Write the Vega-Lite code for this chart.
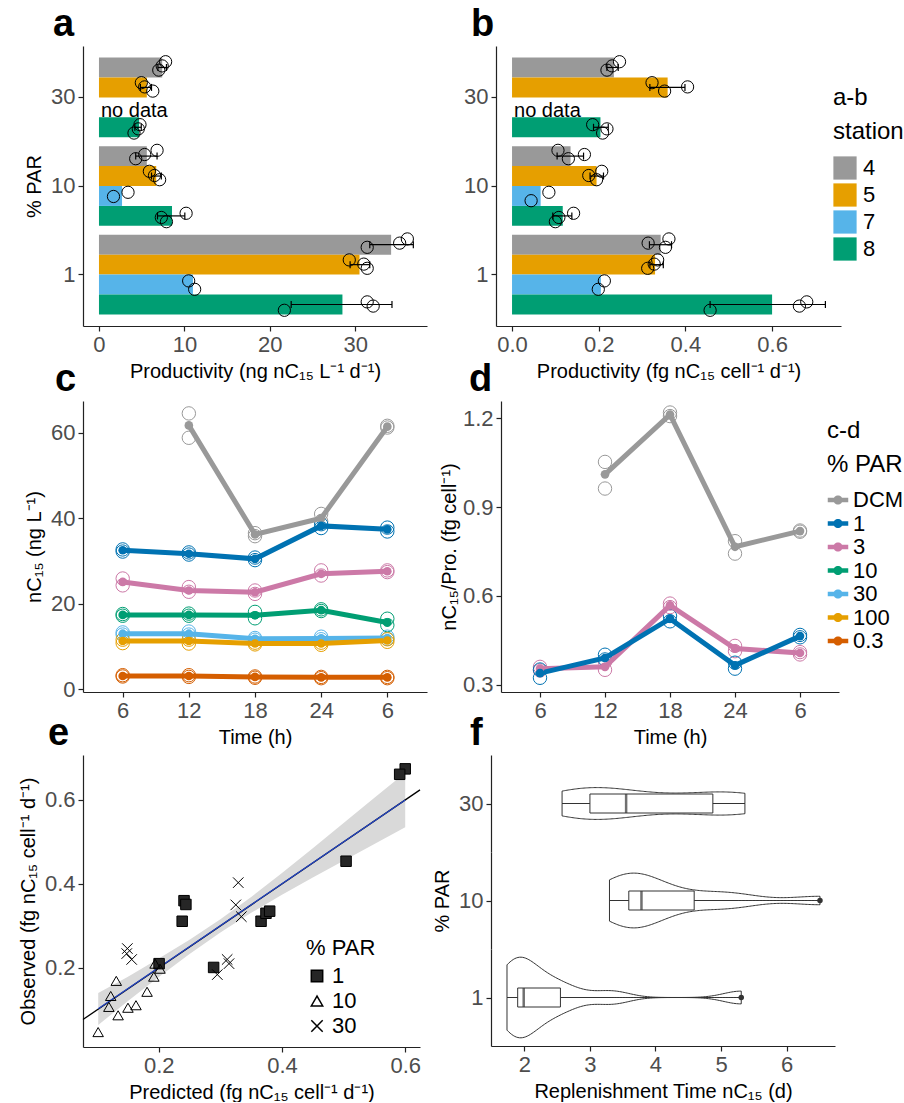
{
"$schema": "https://vega.github.io/schema/vega-lite/v6.json",
"background": "white",
"padding": {"top": 6, "left": 18, "right": 0, "bottom": 0},
"config": {
  "font": "Liberation Sans",
  "view": {"stroke": null},
  "axis": {"grid": false, "domainColor": "#222", "domainWidth": 1.2, "tickColor": "#222", "tickWidth": 1.2, "tickSize": 5, "labelColor": "#4D4D4D", "labelFontSize": 22, "titleFontSize": 20, "titleFontWeight": "normal", "titleColor": "black", "labelPadding": 3, "titlePadding": 6, "labelFont": "Liberation Sans", "titleFont": "Liberation Sans"},
  "title": {"fontSize": 38, "fontWeight": "bold", "anchor": "start", "frame": "group", "color": "black", "offset": 2},
  "legend": {"titleFontWeight": "normal", "titleColor": "black", "labelColor": "black", "titleAlign": "left"}
},
"datasets": {
  "bars": [
    {"par":"30","station":"4","a":7.4,"alo":6.9,"ahi":7.9,"b":0.235,"blo":0.219,"bhi":0.245},
    {"par":"30","station":"5","a":5.6,"alo":4.85,"ahi":6.15,"b":0.359,"blo":0.318,"bhi":0.399},
    {"par":"30","station":"8","a":4.7,"alo":4.2,"ahi":4.95,"b":0.204,"blo":0.188,"bhi":0.222},
    {"par":"10","station":"4","a":5.6,"alo":4.3,"ahi":6.8,"b":0.135,"blo":0.104,"bhi":0.165},
    {"par":"10","station":"5","a":6.7,"alo":6.15,"ahi":7.3,"b":0.195,"blo":0.18,"bhi":0.211},
    {"par":"10","station":"7","a":2.7,"alo":null,"ahi":null,"b":0.066,"blo":null,"bhi":null},
    {"par":"10","station":"8","a":8.55,"alo":6.85,"ahi":10.05,"b":0.117,"blo":0.094,"bhi":0.138},
    {"par":"1","station":"4","a":34.2,"alo":31.7,"ahi":36.8,"b":0.343,"blo":0.317,"bhi":0.368},
    {"par":"1","station":"5","a":30.5,"alo":29.4,"ahi":31.7,"b":0.33,"blo":0.318,"bhi":0.349},
    {"par":"1","station":"7","a":11.0,"alo":null,"ahi":null,"b":0.205,"blo":null,"bhi":null},
    {"par":"1","station":"8","a":28.5,"alo":22.5,"ahi":34.3,"b":0.6,"blo":0.457,"bhi":0.723}
  ],
  "reps": [
    {"panel":"a","par":"30","rep":"4-3","v":7.0},{"panel":"a","par":"30","rep":"4-2","v":7.4},{"panel":"a","par":"30","rep":"4-1","v":7.8},
    {"panel":"a","par":"30","rep":"5-1","v":4.96},{"panel":"a","par":"30","rep":"5-2","v":5.35},{"panel":"a","par":"30","rep":"5-3","v":6.3},
    {"panel":"a","par":"30","rep":"8-3","v":4.1},{"panel":"a","par":"30","rep":"8-2","v":4.6},{"panel":"a","par":"30","rep":"8-1","v":4.8},
    {"panel":"a","par":"10","rep":"4-3","v":4.3},{"panel":"a","par":"10","rep":"4-2","v":5.35},{"panel":"a","par":"10","rep":"4-1","v":6.8},
    {"panel":"a","par":"10","rep":"5-1","v":5.9},{"panel":"a","par":"10","rep":"5-2","v":6.5},{"panel":"a","par":"10","rep":"5-3","v":7.1},
    {"panel":"a","par":"10","rep":"7-2","v":1.7},{"panel":"a","par":"10","rep":"7-1","v":3.4},
    {"panel":"a","par":"10","rep":"8-2","v":7.3},{"panel":"a","par":"10","rep":"8-3","v":7.9},{"panel":"a","par":"10","rep":"8-1","v":10.2},
    {"panel":"a","par":"1","rep":"4-3","v":31.4},{"panel":"a","par":"1","rep":"4-2","v":35.2},{"panel":"a","par":"1","rep":"4-1","v":36.1},
    {"panel":"a","par":"1","rep":"5-1","v":29.3},{"panel":"a","par":"1","rep":"5-2","v":31.0},{"panel":"a","par":"1","rep":"5-3","v":31.4},
    {"panel":"a","par":"1","rep":"7-1","v":10.5},{"panel":"a","par":"1","rep":"7-3","v":11.2},
    {"panel":"a","par":"1","rep":"8-3","v":21.7},{"panel":"a","par":"1","rep":"8-1","v":31.4},{"panel":"a","par":"1","rep":"8-2","v":32.1},
    {"panel":"b","par":"30","rep":"4-3","v":0.219},{"panel":"b","par":"30","rep":"4-2","v":0.231},{"panel":"b","par":"30","rep":"4-1","v":0.248},
    {"panel":"b","par":"30","rep":"5-1","v":0.323},{"panel":"b","par":"30","rep":"5-3","v":0.352},{"panel":"b","par":"30","rep":"5-2","v":0.405},
    {"panel":"b","par":"30","rep":"8-1","v":0.186},{"panel":"b","par":"30","rep":"8-3","v":0.209},{"panel":"b","par":"30","rep":"8-2","v":0.219},
    {"panel":"b","par":"10","rep":"4-1","v":0.106},{"panel":"b","par":"10","rep":"4-3","v":0.13},{"panel":"b","par":"10","rep":"4-2","v":0.167},
    {"panel":"b","par":"10","rep":"5-2","v":0.177},{"panel":"b","par":"10","rep":"5-3","v":0.195},{"panel":"b","par":"10","rep":"5-1","v":0.207},
    {"panel":"b","par":"10","rep":"7-3","v":0.044},{"panel":"b","par":"10","rep":"7-1","v":0.085},
    {"panel":"b","par":"10","rep":"8-3","v":0.1},{"panel":"b","par":"10","rep":"8-2","v":0.108},{"panel":"b","par":"10","rep":"8-1","v":0.142},
    {"panel":"b","par":"1","rep":"4-2","v":0.314},{"panel":"b","par":"1","rep":"4-3","v":0.354},{"panel":"b","par":"1","rep":"4-1","v":0.362},
    {"panel":"b","par":"1","rep":"5-3","v":0.313},{"panel":"b","par":"1","rep":"5-2","v":0.328},{"panel":"b","par":"1","rep":"5-1","v":0.336},
    {"panel":"b","par":"1","rep":"7-3","v":0.199},{"panel":"b","par":"1","rep":"7-1","v":0.213},
    {"panel":"b","par":"1","rep":"8-3","v":0.457},{"panel":"b","par":"1","rep":"8-2","v":0.663},{"panel":"b","par":"1","rep":"8-1","v":0.68}
  ],
  "ts": [
    {"panel":"c","par":"DCM","h":12,"m":61.7},{"panel":"c","par":"DCM","h":18,"m":36.2},{"panel":"c","par":"DCM","h":24,"m":40.0},{"panel":"c","par":"DCM","h":30,"m":61.4},
    {"panel":"c","par":"1","h":6,"m":32.5},{"panel":"c","par":"1","h":12,"m":31.7},{"panel":"c","par":"1","h":18,"m":30.5},{"panel":"c","par":"1","h":24,"m":38.2},{"panel":"c","par":"1","h":30,"m":37.4},
    {"panel":"c","par":"3","h":6,"m":25.1},{"panel":"c","par":"3","h":12,"m":23.1},{"panel":"c","par":"3","h":18,"m":22.7},{"panel":"c","par":"3","h":24,"m":27.0},{"panel":"c","par":"3","h":30,"m":27.6},
    {"panel":"c","par":"10","h":6,"m":17.4},{"panel":"c","par":"10","h":12,"m":17.4},{"panel":"c","par":"10","h":18,"m":17.3},{"panel":"c","par":"10","h":24,"m":18.5},{"panel":"c","par":"10","h":30,"m":15.6},
    {"panel":"c","par":"30","h":6,"m":13.0},{"panel":"c","par":"30","h":12,"m":13.0},{"panel":"c","par":"30","h":18,"m":11.8},{"panel":"c","par":"30","h":24,"m":11.9},{"panel":"c","par":"30","h":30,"m":12.0},
    {"panel":"c","par":"100","h":6,"m":11.3},{"panel":"c","par":"100","h":12,"m":11.3},{"panel":"c","par":"100","h":18,"m":10.7},{"panel":"c","par":"100","h":24,"m":10.7},{"panel":"c","par":"100","h":30,"m":11.4},
    {"panel":"c","par":"0.3","h":6,"m":3.1},{"panel":"c","par":"0.3","h":12,"m":3.1},{"panel":"c","par":"0.3","h":18,"m":2.9},{"panel":"c","par":"0.3","h":24,"m":2.8},{"panel":"c","par":"0.3","h":30,"m":2.8},
    {"panel":"d","par":"DCM","h":12,"m":1.011},{"panel":"d","par":"DCM","h":18,"m":1.213},{"panel":"d","par":"DCM","h":24,"m":0.766},{"panel":"d","par":"DCM","h":30,"m":0.819},
    {"panel":"d","par":"3","h":6,"m":0.354},{"panel":"d","par":"3","h":12,"m":0.36},{"panel":"d","par":"3","h":18,"m":0.568},{"panel":"d","par":"3","h":24,"m":0.422},{"panel":"d","par":"3","h":30,"m":0.407},
    {"panel":"d","par":"1","h":6,"m":0.339},{"panel":"d","par":"1","h":12,"m":0.39},{"panel":"d","par":"1","h":18,"m":0.523},{"panel":"d","par":"1","h":24,"m":0.365},{"panel":"d","par":"1","h":30,"m":0.464}
  ],
  "tsrep": [
    {"panel":"c","par":"DCM","h":12,"v":64.5},{"panel":"c","par":"DCM","h":12,"v":58.8},{"panel":"c","par":"DCM","h":18,"v":35.8},{"panel":"c","par":"DCM","h":18,"v":36.5},{"panel":"c","par":"DCM","h":24,"v":41.0},{"panel":"c","par":"DCM","h":24,"v":39.3},{"panel":"c","par":"DCM","h":30,"v":61.2},{"panel":"c","par":"DCM","h":30,"v":61.6},
    {"panel":"c","par":"1","h":6,"v":32.2},{"panel":"c","par":"1","h":6,"v":32.7},{"panel":"c","par":"1","h":12,"v":31.5},{"panel":"c","par":"1","h":12,"v":32.0},{"panel":"c","par":"1","h":18,"v":30.2},{"panel":"c","par":"1","h":18,"v":30.8},{"panel":"c","par":"1","h":24,"v":37.7},{"panel":"c","par":"1","h":24,"v":38.6},{"panel":"c","par":"1","h":30,"v":36.9},{"panel":"c","par":"1","h":30,"v":37.8},
    {"panel":"c","par":"3","h":6,"v":25.9},{"panel":"c","par":"3","h":6,"v":24.3},{"panel":"c","par":"3","h":12,"v":23.9},{"panel":"c","par":"3","h":12,"v":22.8},{"panel":"c","par":"3","h":18,"v":22.3},{"panel":"c","par":"3","h":18,"v":23.1},{"panel":"c","par":"3","h":24,"v":27.8},{"panel":"c","par":"3","h":24,"v":26.6},{"panel":"c","par":"3","h":30,"v":27.4},{"panel":"c","par":"3","h":30,"v":27.8},
    {"panel":"c","par":"10","h":6,"v":17.2},{"panel":"c","par":"10","h":6,"v":17.6},{"panel":"c","par":"10","h":12,"v":17.2},{"panel":"c","par":"10","h":12,"v":17.7},{"panel":"c","par":"10","h":18,"v":18.1},{"panel":"c","par":"10","h":18,"v":16.6},{"panel":"c","par":"10","h":24,"v":18.3},{"panel":"c","par":"10","h":24,"v":18.7},{"panel":"c","par":"10","h":30,"v":16.5},{"panel":"c","par":"10","h":30,"v":15.0},
    {"panel":"c","par":"30","h":6,"v":13.3},{"panel":"c","par":"30","h":6,"v":12.8},{"panel":"c","par":"30","h":12,"v":13.5},{"panel":"c","par":"30","h":12,"v":12.8},{"panel":"c","par":"30","h":18,"v":11.6},{"panel":"c","par":"30","h":18,"v":12.0},{"panel":"c","par":"30","h":24,"v":12.3},{"panel":"c","par":"30","h":24,"v":11.7},{"panel":"c","par":"30","h":30,"v":12.3},{"panel":"c","par":"30","h":30,"v":11.8},
    {"panel":"c","par":"100","h":6,"v":11.6},{"panel":"c","par":"100","h":6,"v":10.8},{"panel":"c","par":"100","h":12,"v":11.6},{"panel":"c","par":"100","h":12,"v":10.7},{"panel":"c","par":"100","h":18,"v":10.5},{"panel":"c","par":"100","h":18,"v":10.9},{"panel":"c","par":"100","h":24,"v":10.4},{"panel":"c","par":"100","h":24,"v":10.9},{"panel":"c","par":"100","h":30,"v":11.7},{"panel":"c","par":"100","h":30,"v":11.1},
    {"panel":"c","par":"0.3","h":6,"v":3.0},{"panel":"c","par":"0.3","h":6,"v":3.3},{"panel":"c","par":"0.3","h":12,"v":3.3},{"panel":"c","par":"0.3","h":12,"v":2.9},{"panel":"c","par":"0.3","h":18,"v":2.7},{"panel":"c","par":"0.3","h":18,"v":3.0},{"panel":"c","par":"0.3","h":24,"v":2.6},{"panel":"c","par":"0.3","h":24,"v":2.9},{"panel":"c","par":"0.3","h":30,"v":2.6},{"panel":"c","par":"0.3","h":30,"v":2.9},
    {"panel":"d","par":"DCM","h":12,"v":1.053},{"panel":"d","par":"DCM","h":12,"v":0.963},{"panel":"d","par":"DCM","h":18,"v":1.22},{"panel":"d","par":"DCM","h":18,"v":1.208},{"panel":"d","par":"DCM","h":24,"v":0.785},{"panel":"d","par":"DCM","h":24,"v":0.743},{"panel":"d","par":"DCM","h":30,"v":0.821},{"panel":"d","par":"DCM","h":30,"v":0.817},
    {"panel":"d","par":"3","h":6,"v":0.36},{"panel":"d","par":"3","h":6,"v":0.348},{"panel":"d","par":"3","h":12,"v":0.377},{"panel":"d","par":"3","h":12,"v":0.35},{"panel":"d","par":"3","h":18,"v":0.574},{"panel":"d","par":"3","h":18,"v":0.562},{"panel":"d","par":"3","h":24,"v":0.431},{"panel":"d","par":"3","h":24,"v":0.413},{"panel":"d","par":"3","h":30,"v":0.41},{"panel":"d","par":"3","h":30,"v":0.402},
    {"panel":"d","par":"1","h":6,"v":0.351},{"panel":"d","par":"1","h":6,"v":0.323},{"panel":"d","par":"1","h":12,"v":0.401},{"panel":"d","par":"1","h":12,"v":0.385},{"panel":"d","par":"1","h":18,"v":0.532},{"panel":"d","par":"1","h":18,"v":0.514},{"panel":"d","par":"1","h":24,"v":0.374},{"panel":"d","par":"1","h":24,"v":0.354},{"panel":"d","par":"1","h":30,"v":0.468},{"panel":"d","par":"1","h":30,"v":0.46}
  ],
  "pred": [
    {"par":"1","pred":0.600,"obs":0.674},{"par":"1","pred":0.591,"obs":0.661},{"par":"1","pred":0.504,"obs":0.454},{"par":"1","pred":0.241,"obs":0.360},{"par":"1","pred":0.244,"obs":0.351},{"par":"1","pred":0.238,"obs":0.311},{"par":"1","pred":0.366,"obs":0.311},{"par":"1","pred":0.374,"obs":0.330},{"par":"1","pred":0.380,"obs":0.335},{"par":"1","pred":0.289,"obs":0.201},{"par":"1","pred":0.2005,"obs":0.210},
    {"par":"10","pred":0.1016,"obs":0.047},{"par":"10","pred":0.131,"obs":0.169},{"par":"10","pred":0.122,"obs":0.133},{"par":"10","pred":0.119,"obs":0.107},{"par":"10","pred":0.134,"obs":0.087},{"par":"10","pred":0.150,"obs":0.105},{"par":"10","pred":0.163,"obs":0.111},{"par":"10","pred":0.181,"obs":0.143},{"par":"10","pred":0.192,"obs":0.179},{"par":"10","pred":0.194,"obs":0.210},{"par":"10","pred":0.202,"obs":0.198},
    {"par":"30","pred":0.329,"obs":0.403},{"par":"30","pred":0.325,"obs":0.350},{"par":"30","pred":0.334,"obs":0.322},{"par":"30","pred":0.311,"obs":0.220},{"par":"30","pred":0.314,"obs":0.210},{"par":"30","pred":0.295,"obs":0.184},{"par":"30","pred":0.149,"obs":0.246},{"par":"30","pred":0.148,"obs":0.234},{"par":"30","pred":0.156,"obs":0.220}
  ],
  "band": [
    {"x":0.1017,"lo":0.064,"hi":0.140},{"x":0.15,"lo":0.121,"hi":0.179},{"x":0.2,"lo":0.178,"hi":0.222},{"x":0.25,"lo":0.233,"hi":0.267},{"x":0.3,"lo":0.284,"hi":0.316},{"x":0.35,"lo":0.331,"hi":0.369},{"x":0.4,"lo":0.374,"hi":0.426},{"x":0.45,"lo":0.415,"hi":0.485},{"x":0.5,"lo":0.455,"hi":0.545},{"x":0.55,"lo":0.495,"hi":0.605},{"x":0.6,"lo":0.535,"hi":0.665}
  ],
  "rt": [
    {"par":"1","t":1.735},{"par":"1","t":1.85},{"par":"1","t":1.88},{"par":"1","t":1.916},{"par":"1","t":1.95},{"par":"1","t":1.99},{"par":"1","t":2.3},{"par":"1","t":2.4},{"par":"1","t":2.7},{"par":"1","t":3.333},{"par":"1","t":5.308},
    {"par":"10","t":3.298},{"par":"10","t":3.45},{"par":"10","t":3.55},{"par":"10","t":3.636},{"par":"10","t":3.7},{"par":"10","t":3.786},{"par":"10","t":3.95},{"par":"10","t":4.3},{"par":"10","t":4.88},{"par":"10","t":5.257},{"par":"10","t":6.509},
    {"par":"30","t":2.575},{"par":"30","t":2.8},{"par":"30","t":3.0},{"par":"30","t":3.3},{"par":"30","t":3.552},{"par":"30","t":4.2},{"par":"30","t":4.875},{"par":"30","t":5.2},{"par":"30","t":5.364}
  ]
},
"spacing": -20,
"resolve": {"scale": {"color": "independent", "fill": "independent", "stroke": "independent", "shape": "independent", "yOffset": "independent"}, "legend": {"color": "independent", "fill": "independent", "stroke": "independent", "shape": "independent"}},
"vconcat": [
{
 "spacing": 36,
 "hconcat": [
  {
   "title": {"text": "a", "dx": -30},
   "width": 344, "height": 280,
   "resolve": {"scale": {"yOffset": "independent"}},
   "layer": [
    {"data": {"name": "bars"}, "mark": {"type": "bar"},
     "encoding": {
      "y": {"field": "par", "type": "nominal", "scale": {"domain": ["30","10","1"], "paddingInner": 0.1, "paddingOuter": 0.13}, "axis": {"title": "% PAR"}},
      "yOffset": {"field": "station", "type": "nominal", "scale": {"domain": ["4","5","7","8"], "paddingInner": 0, "paddingOuter": 0}},
      "x": {"field": "a", "type": "quantitative", "scale": {"domain": [-1.87, 38.4], "nice": false}, "axis": {"values": [0,10,20,30], "title": "Productivity (ng nC₁₅ L⁻¹ d⁻¹)"}},
      "color": {"field": "station", "type": "nominal", "scale": {"domain": ["4","5","7","8"], "range": ["#999999","#E69F00","#56B4E9","#009E73"]},
        "legend": {"title": ["a-b", "station"], "titleFontSize": 24, "titleLineHeight": 34, "labelFontSize": 22, "symbolType": "square", "symbolSize": 540, "symbolStrokeWidth": 0, "rowPadding": 3, "padding": 40, "offset": -48, "titlePadding": 12, "labelOffset": 6, "titleAlign": "left"}}
     }},
    {"data": {"name": "reps"}, "transform": [{"filter": "datum.panel == 'a'"}], "mark": {"type": "point", "filled": false, "stroke": "black", "strokeWidth": 1, "size": 150, "opacity": 1},
     "encoding": {
      "y": {"field": "par", "type": "nominal", "scale": {"domain": ["30","10","1"], "paddingInner": 0.1, "paddingOuter": 0.13}, "axis": {"title": "% PAR"}},
      "yOffset": {"field": "rep", "type": "nominal", "scale": {"domain": ["4-0","4-1","4-2","4-3","4-4","5-0","5-1","5-2","5-3","5-4","7-0","7-1","7-2","7-3","7-4","8-0","8-1","8-2","8-3","8-4"], "paddingInner": 0, "paddingOuter": 0}},
      "x": {"field": "v", "type": "quantitative", "scale": {"domain": [-1.87, 38.4], "nice": false}, "axis": {"values": [0,10,20,30], "title": "Productivity (ng nC₁₅ L⁻¹ d⁻¹)"}}
     }},
    {"data": {"name": "bars"}, "mark": {"type": "rule", "color": "black", "strokeWidth": 1.2},
     "encoding": {
      "y": {"field": "par", "type": "nominal", "scale": {"domain": ["30","10","1"], "paddingInner": 0.1, "paddingOuter": 0.13}, "axis": {"title": "% PAR"}},
      "yOffset": {"field": "station", "type": "nominal", "scale": {"domain": ["4","5","7","8"], "paddingInner": 0, "paddingOuter": 0}},
      "x": {"field": "alo", "type": "quantitative", "scale": {"domain": [-1.87, 38.4], "nice": false}, "axis": {"values": [0,10,20,30], "title": "Productivity (ng nC₁₅ L⁻¹ d⁻¹)"}},
      "x2": {"field": "ahi"}
     }},
    {"data": {"name": "bars"}, "mark": {"type": "tick", "color": "black", "size": 7, "thickness": 1.2, "opacity": 1},
     "encoding": {
      "y": {"field": "par", "type": "nominal", "scale": {"domain": ["30","10","1"], "paddingInner": 0.1, "paddingOuter": 0.13}, "axis": {"title": "% PAR"}},
      "yOffset": {"field": "station", "type": "nominal", "scale": {"domain": ["4","5","7","8"], "paddingInner": 0, "paddingOuter": 0}},
      "x": {"field": "alo", "type": "quantitative", "scale": {"domain": [-1.87, 38.4], "nice": false}, "axis": {"values": [0,10,20,30], "title": "Productivity (ng nC₁₅ L⁻¹ d⁻¹)"}}
     }},
    {"data": {"name": "bars"}, "mark": {"type": "tick", "color": "black", "size": 7, "thickness": 1.2, "opacity": 1},
     "encoding": {
      "y": {"field": "par", "type": "nominal", "scale": {"domain": ["30","10","1"], "paddingInner": 0.1, "paddingOuter": 0.13}, "axis": {"title": "% PAR"}},
      "yOffset": {"field": "station", "type": "nominal", "scale": {"domain": ["4","5","7","8"], "paddingInner": 0, "paddingOuter": 0}},
      "x": {"field": "ahi", "type": "quantitative", "scale": {"domain": [-1.87, 38.4], "nice": false}, "axis": {"values": [0,10,20,30], "title": "Productivity (ng nC₁₅ L⁻¹ d⁻¹)"}}
     }},
    {"data": {"values": [{"par": "30", "station": "7", "t": "no data"}]}, "mark": {"type": "text", "align": "left", "baseline": "middle", "dx": 2, "fontSize": 20, "color": "black"},
     "encoding": {
      "y": {"field": "par", "type": "nominal", "scale": {"domain": ["30","10","1"], "paddingInner": 0.1, "paddingOuter": 0.13}, "axis": {"title": "% PAR"}},
      "yOffset": {"field": "station", "type": "nominal", "scale": {"domain": ["4","5","7","8"], "paddingInner": 0, "paddingOuter": 0}},
      "x": {"datum": 0, "type": "quantitative", "scale": {"domain": [-1.87, 38.4], "nice": false}, "axis": {"values": [0,10,20,30], "title": "Productivity (ng nC₁₅ L⁻¹ d⁻¹)"}},
      "text": {"field": "t"}
     }}
   ]
  },
  {
   "title": {"text": "b", "dx": -25},
   "width": 345, "height": 280,
   "resolve": {"scale": {"yOffset": "independent"}},
   "layer": [
    {"data": {"name": "bars"}, "mark": {"type": "bar"},
     "encoding": {
      "y": {"field": "par", "type": "nominal", "scale": {"domain": ["30","10","1"], "paddingInner": 0.1, "paddingOuter": 0.13}, "axis": {"title": null}},
      "yOffset": {"field": "station", "type": "nominal", "scale": {"domain": ["4","5","7","8"], "paddingInner": 0, "paddingOuter": 0}},
      "x": {"field": "b", "type": "quantitative", "scale": {"domain": [-0.037, 0.759], "nice": false}, "axis": {"values": [0,0.2,0.4,0.6], "format": ".1f", "title": "Productivity (fg nC₁₅ cell⁻¹ d⁻¹)"}},
      "color": {"field": "station", "type": "nominal", "scale": {"domain": ["4","5","7","8"], "range": ["#999999","#E69F00","#56B4E9","#009E73"]},
        "legend": {"title": ["a-b", "station"], "titleFontSize": 24, "titleLineHeight": 34, "labelFontSize": 22, "symbolType": "square", "symbolSize": 540, "symbolStrokeWidth": 0, "rowPadding": 3, "padding": 40, "offset": -48, "titlePadding": 12, "labelOffset": 6, "titleAlign": "left"}}
     }},
    {"data": {"name": "reps"}, "transform": [{"filter": "datum.panel == 'b'"}], "mark": {"type": "point", "filled": false, "stroke": "black", "strokeWidth": 1, "size": 150, "opacity": 1},
     "encoding": {
      "y": {"field": "par", "type": "nominal", "scale": {"domain": ["30","10","1"], "paddingInner": 0.1, "paddingOuter": 0.13}, "axis": {"title": null}},
      "yOffset": {"field": "rep", "type": "nominal", "scale": {"domain": ["4-0","4-1","4-2","4-3","4-4","5-0","5-1","5-2","5-3","5-4","7-0","7-1","7-2","7-3","7-4","8-0","8-1","8-2","8-3","8-4"], "paddingInner": 0, "paddingOuter": 0}},
      "x": {"field": "v", "type": "quantitative", "scale": {"domain": [-0.037, 0.759], "nice": false}, "axis": {"values": [0,0.2,0.4,0.6], "format": ".1f", "title": "Productivity (fg nC₁₅ cell⁻¹ d⁻¹)"}}
     }},
    {"data": {"name": "bars"}, "mark": {"type": "rule", "color": "black", "strokeWidth": 1.2},
     "encoding": {
      "y": {"field": "par", "type": "nominal", "scale": {"domain": ["30","10","1"], "paddingInner": 0.1, "paddingOuter": 0.13}, "axis": {"title": null}},
      "yOffset": {"field": "station", "type": "nominal", "scale": {"domain": ["4","5","7","8"], "paddingInner": 0, "paddingOuter": 0}},
      "x": {"field": "blo", "type": "quantitative", "scale": {"domain": [-0.037, 0.759], "nice": false}, "axis": {"values": [0,0.2,0.4,0.6], "format": ".1f", "title": "Productivity (fg nC₁₅ cell⁻¹ d⁻¹)"}},
      "x2": {"field": "bhi"}
     }},
    {"data": {"name": "bars"}, "mark": {"type": "tick", "color": "black", "size": 7, "thickness": 1.2, "opacity": 1},
     "encoding": {
      "y": {"field": "par", "type": "nominal", "scale": {"domain": ["30","10","1"], "paddingInner": 0.1, "paddingOuter": 0.13}, "axis": {"title": null}},
      "yOffset": {"field": "station", "type": "nominal", "scale": {"domain": ["4","5","7","8"], "paddingInner": 0, "paddingOuter": 0}},
      "x": {"field": "blo", "type": "quantitative", "scale": {"domain": [-0.037, 0.759], "nice": false}, "axis": {"values": [0,0.2,0.4,0.6], "format": ".1f", "title": "Productivity (fg nC₁₅ cell⁻¹ d⁻¹)"}}
     }},
    {"data": {"name": "bars"}, "mark": {"type": "tick", "color": "black", "size": 7, "thickness": 1.2, "opacity": 1},
     "encoding": {
      "y": {"field": "par", "type": "nominal", "scale": {"domain": ["30","10","1"], "paddingInner": 0.1, "paddingOuter": 0.13}, "axis": {"title": null}},
      "yOffset": {"field": "station", "type": "nominal", "scale": {"domain": ["4","5","7","8"], "paddingInner": 0, "paddingOuter": 0}},
      "x": {"field": "bhi", "type": "quantitative", "scale": {"domain": [-0.037, 0.759], "nice": false}, "axis": {"values": [0,0.2,0.4,0.6], "format": ".1f", "title": "Productivity (fg nC₁₅ cell⁻¹ d⁻¹)"}}
     }},
    {"data": {"values": [{"par": "30", "station": "7", "t": "no data"}]}, "mark": {"type": "text", "align": "left", "baseline": "middle", "dx": 2, "fontSize": 20, "color": "black"},
     "encoding": {
      "y": {"field": "par", "type": "nominal", "scale": {"domain": ["30","10","1"], "paddingInner": 0.1, "paddingOuter": 0.13}, "axis": {"title": null}},
      "yOffset": {"field": "station", "type": "nominal", "scale": {"domain": ["4","5","7","8"], "paddingInner": 0, "paddingOuter": 0}},
      "x": {"datum": 0, "type": "quantitative", "scale": {"domain": [-0.037, 0.759], "nice": false}, "axis": {"values": [0,0.2,0.4,0.6], "format": ".1f", "title": "Productivity (fg nC₁₅ cell⁻¹ d⁻¹)"}},
      "text": {"field": "t"}
     }}
   ]
  }
 ]
},
{
"spacing": -32,
"resolve": {"scale": {"color": "independent", "fill": "independent", "stroke": "independent", "shape": "independent", "yOffset": "independent"}, "legend": {"color": "independent", "fill": "independent", "stroke": "independent", "shape": "independent"}},
"vconcat": [
{
 "spacing": 12,
 "hconcat": [
  {
   "title": {"text": "c", "dx": -28},
   "width": 344, "height": 291,
   "layer": [
    {"data": {"name": "tsrep"}, "transform": [{"filter": "datum.panel == 'c'"}], "mark": {"type": "point", "filled": false, "size": 180, "strokeWidth": 1, "opacity": 1},
     "encoding": {
      "x": {"field": "h", "type": "ordinal", "scale": {"domain": [6,12,18,24,30], "type": "point", "padding": 0.6}, "axis": {"labelAngle": 0, "labelExpr": "datum.value == 30 ? '6' : datum.label", "title": "Time (h)"}},
      "y": {"field": "v", "type": "quantitative", "scale": {"domain": [-0.63, 67.4], "nice": false, "zero": false}, "axis": {"values": [0,20,40,60], "title": "nC₁₅ (ng L⁻¹)"}},
      "color": {"field": "par", "type": "nominal", "scale": {"domain": ["DCM","1","3","10","30","100","0.3"], "range": ["#999999","#0072B2","#CC79A7","#009E73","#56B4E9","#E69F00","#D55E00"]},
        "legend": {"title": ["c-d", "% PAR"], "titleFontSize": 24, "titleLineHeight": 34, "labelFontSize": 22, "symbolType": "M-1,-0.22L1,-0.22L1,0.22L-1,0.22Z M-0.45,0A0.45,0.45 0 1 1 0.45,0A0.45,0.45 0 1 1 -0.45,0Z", "symbolSize": 420, "symbolStrokeWidth": 0, "rowPadding": 1.5, "padding": 18, "offset": -30, "titlePadding": 12, "labelOffset": 4, "titleAlign": "left"}}
     }},
    {"data": {"name": "ts"}, "transform": [{"filter": "datum.panel == 'c'"}], "mark": {"type": "line", "strokeWidth": 5},
     "encoding": {
      "x": {"field": "h", "type": "ordinal", "scale": {"domain": [6,12,18,24,30], "type": "point", "padding": 0.6}, "axis": {"labelAngle": 0, "labelExpr": "datum.value == 30 ? '6' : datum.label", "title": "Time (h)"}},
      "y": {"field": "m", "type": "quantitative", "scale": {"domain": [-0.63, 67.4], "nice": false, "zero": false}, "axis": {"values": [0,20,40,60], "title": "nC₁₅ (ng L⁻¹)"}},
      "color": {"field": "par", "type": "nominal", "scale": {"domain": ["DCM","1","3","10","30","100","0.3"], "range": ["#999999","#0072B2","#CC79A7","#009E73","#56B4E9","#E69F00","#D55E00"]},
        "legend": {"title": ["c-d", "% PAR"], "titleFontSize": 24, "titleLineHeight": 34, "labelFontSize": 22, "symbolType": "M-1,-0.22L1,-0.22L1,0.22L-1,0.22Z M-0.45,0A0.45,0.45 0 1 1 0.45,0A0.45,0.45 0 1 1 -0.45,0Z", "symbolSize": 420, "symbolStrokeWidth": 0, "rowPadding": 1.5, "padding": 18, "offset": -30, "titlePadding": 12, "labelOffset": 4, "titleAlign": "left"}},
      "order": {"field": "h", "type": "quantitative"}
     }},
    {"data": {"name": "ts"}, "transform": [{"filter": "datum.panel == 'c'"}], "mark": {"type": "point", "filled": true, "size": 75, "opacity": 1},
     "encoding": {
      "x": {"field": "h", "type": "ordinal", "scale": {"domain": [6,12,18,24,30], "type": "point", "padding": 0.6}, "axis": {"labelAngle": 0, "labelExpr": "datum.value == 30 ? '6' : datum.label", "title": "Time (h)"}},
      "y": {"field": "m", "type": "quantitative", "scale": {"domain": [-0.63, 67.4], "nice": false, "zero": false}, "axis": {"values": [0,20,40,60], "title": "nC₁₅ (ng L⁻¹)"}},
      "color": {"field": "par", "type": "nominal", "scale": {"domain": ["DCM","1","3","10","30","100","0.3"], "range": ["#999999","#0072B2","#CC79A7","#009E73","#56B4E9","#E69F00","#D55E00"]},
        "legend": {"title": ["c-d", "% PAR"], "titleFontSize": 24, "titleLineHeight": 34, "labelFontSize": 22, "symbolType": "M-1,-0.22L1,-0.22L1,0.22L-1,0.22Z M-0.45,0A0.45,0.45 0 1 1 0.45,0A0.45,0.45 0 1 1 -0.45,0Z", "symbolSize": 420, "symbolStrokeWidth": 0, "rowPadding": 1.5, "padding": 18, "offset": -30, "titlePadding": 12, "labelOffset": 4, "titleAlign": "left"}}
     }}
   ]
  },
  {
   "title": {"text": "d", "dx": -32},
   "width": 338, "height": 291,
   "layer": [
    {"data": {"name": "tsrep"}, "transform": [{"filter": "datum.panel == 'd'"}], "mark": {"type": "point", "filled": false, "size": 180, "strokeWidth": 1, "opacity": 1},
     "encoding": {
      "x": {"field": "h", "type": "ordinal", "scale": {"domain": [6,12,18,24,30], "type": "point", "padding": 0.6}, "axis": {"labelAngle": 0, "labelExpr": "datum.value == 30 ? '6' : datum.label", "title": "Time (h)"}},
      "y": {"field": "v", "type": "quantitative", "scale": {"domain": [0.275, 1.259], "nice": false, "zero": false}, "axis": {"values": [0.3,0.6,0.9,1.2], "format": ".1f", "title": "nC₁₅/Pro. (fg cell⁻¹)", "titlePadding": 3}},
      "color": {"field": "par", "type": "nominal", "scale": {"domain": ["DCM","1","3","10","30","100","0.3"], "range": ["#999999","#0072B2","#CC79A7","#009E73","#56B4E9","#E69F00","#D55E00"]},
        "legend": {"title": ["c-d", "% PAR"], "titleFontSize": 24, "titleLineHeight": 34, "labelFontSize": 22, "symbolType": "M-1,-0.22L1,-0.22L1,0.22L-1,0.22Z M-0.45,0A0.45,0.45 0 1 1 0.45,0A0.45,0.45 0 1 1 -0.45,0Z", "symbolSize": 420, "symbolStrokeWidth": 0, "rowPadding": 1.5, "padding": 18, "offset": -30, "titlePadding": 12, "labelOffset": 4, "titleAlign": "left"}}
     }},
    {"data": {"name": "ts"}, "transform": [{"filter": "datum.panel == 'd'"}], "mark": {"type": "line", "strokeWidth": 5},
     "encoding": {
      "x": {"field": "h", "type": "ordinal", "scale": {"domain": [6,12,18,24,30], "type": "point", "padding": 0.6}, "axis": {"labelAngle": 0, "labelExpr": "datum.value == 30 ? '6' : datum.label", "title": "Time (h)"}},
      "y": {"field": "m", "type": "quantitative", "scale": {"domain": [0.275, 1.259], "nice": false, "zero": false}, "axis": {"values": [0.3,0.6,0.9,1.2], "format": ".1f", "title": "nC₁₅/Pro. (fg cell⁻¹)", "titlePadding": 3}},
      "color": {"field": "par", "type": "nominal", "scale": {"domain": ["DCM","1","3","10","30","100","0.3"], "range": ["#999999","#0072B2","#CC79A7","#009E73","#56B4E9","#E69F00","#D55E00"]},
        "legend": {"title": ["c-d", "% PAR"], "titleFontSize": 24, "titleLineHeight": 34, "labelFontSize": 22, "symbolType": "M-1,-0.22L1,-0.22L1,0.22L-1,0.22Z M-0.45,0A0.45,0.45 0 1 1 0.45,0A0.45,0.45 0 1 1 -0.45,0Z", "symbolSize": 420, "symbolStrokeWidth": 0, "rowPadding": 1.5, "padding": 18, "offset": -30, "titlePadding": 12, "labelOffset": 4, "titleAlign": "left"}},
      "order": {"field": "h", "type": "quantitative"}
     }},
    {"data": {"name": "ts"}, "transform": [{"filter": "datum.panel == 'd'"}], "mark": {"type": "point", "filled": true, "size": 75, "opacity": 1},
     "encoding": {
      "x": {"field": "h", "type": "ordinal", "scale": {"domain": [6,12,18,24,30], "type": "point", "padding": 0.6}, "axis": {"labelAngle": 0, "labelExpr": "datum.value == 30 ? '6' : datum.label", "title": "Time (h)"}},
      "y": {"field": "m", "type": "quantitative", "scale": {"domain": [0.275, 1.259], "nice": false, "zero": false}, "axis": {"values": [0.3,0.6,0.9,1.2], "format": ".1f", "title": "nC₁₅/Pro. (fg cell⁻¹)", "titlePadding": 3}},
      "color": {"field": "par", "type": "nominal", "scale": {"domain": ["DCM","1","3","10","30","100","0.3"], "range": ["#999999","#0072B2","#CC79A7","#009E73","#56B4E9","#E69F00","#D55E00"]},
        "legend": {"title": ["c-d", "% PAR"], "titleFontSize": 24, "titleLineHeight": 34, "labelFontSize": 22, "symbolType": "M-1,-0.22L1,-0.22L1,0.22L-1,0.22Z M-0.45,0A0.45,0.45 0 1 1 0.45,0A0.45,0.45 0 1 1 -0.45,0Z", "symbolSize": 420, "symbolStrokeWidth": 0, "rowPadding": 1.5, "padding": 18, "offset": -30, "titlePadding": 12, "labelOffset": 4, "titleAlign": "left"}}
     }}
   ]
  }
 ]
},
{
 "spacing": 9,
 "resolve": {"scale": {"shape": "independent", "fill": "independent"}, "legend": {"shape": "independent", "fill": "independent"}},
 "hconcat": [
  {
   "title": {"text": "e", "dx": -35},
   "width": 337, "height": 292,
   "layer": [
    {"data": {"name": "band"}, "mark": {"type": "area", "color": "#D9D9D9", "opacity": 1},
     "encoding": {
      "x": {"field": "x", "type": "quantitative", "scale": {"domain": [0.077, 0.624], "nice": false, "zero": false}, "axis": {"values": [0.2,0.4,0.6], "format": ".1f", "title": "Predicted (fg nC₁₅ cell⁻¹ d⁻¹)"}},
      "y": {"field": "lo", "type": "quantitative", "scale": {"domain": [0.0115, 0.707], "nice": false, "zero": false}, "axis": {"values": [0.2,0.4,0.6], "format": ".1f", "title": "Observed (fg nC₁₅ cell⁻¹ d⁻¹)"}},
      "y2": {"field": "hi"}
     }},
    {"data": {"values": [{"x": 0.077, "y": 0.077}, {"x": 0.624, "y": 0.624}]}, "mark": {"type": "line", "color": "black", "strokeWidth": 1.3},
     "encoding": {
      "x": {"field": "x", "type": "quantitative", "scale": {"domain": [0.077, 0.624], "nice": false, "zero": false}, "axis": {"values": [0.2,0.4,0.6], "format": ".1f", "title": "Predicted (fg nC₁₅ cell⁻¹ d⁻¹)"}},
      "y": {"field": "y", "type": "quantitative", "scale": {"domain": [0.0115, 0.707], "nice": false, "zero": false}, "axis": {"values": [0.2,0.4,0.6], "format": ".1f", "title": "Observed (fg nC₁₅ cell⁻¹ d⁻¹)"}}
     }},
    {"data": {"values": [{"x": 0.1017, "y": 0.1027}, {"x": 0.6, "y": 0.6}]}, "mark": {"type": "line", "color": "#2446C8", "strokeWidth": 1.2},
     "encoding": {
      "x": {"field": "x", "type": "quantitative", "scale": {"domain": [0.077, 0.624], "nice": false, "zero": false}, "axis": {"values": [0.2,0.4,0.6], "format": ".1f", "title": "Predicted (fg nC₁₅ cell⁻¹ d⁻¹)"}},
      "y": {"field": "y", "type": "quantitative", "scale": {"domain": [0.0115, 0.707], "nice": false, "zero": false}, "axis": {"values": [0.2,0.4,0.6], "format": ".1f", "title": "Observed (fg nC₁₅ cell⁻¹ d⁻¹)"}}
     }},
    {"data": {"name": "pred"}, "mark": {"type": "point", "stroke": "black", "strokeWidth": 1, "size": 110, "opacity": 1},
     "encoding": {
      "x": {"field": "pred", "type": "quantitative", "scale": {"domain": [0.077, 0.624], "nice": false, "zero": false}, "axis": {"values": [0.2,0.4,0.6], "format": ".1f", "title": "Predicted (fg nC₁₅ cell⁻¹ d⁻¹)"}},
      "y": {"field": "obs", "type": "quantitative", "scale": {"domain": [0.0115, 0.707], "nice": false, "zero": false}, "axis": {"values": [0.2,0.4,0.6], "format": ".1f", "title": "Observed (fg nC₁₅ cell⁻¹ d⁻¹)"}},
      "shape": {"field": "par", "type": "nominal", "scale": {"domain": ["1","10","30"], "range": ["square", "triangle-up", "M-1,-1L1,1M-1,1L1,-1"]},
        "legend": {"title": "% PAR", "orient": "none", "legendX": 223, "legendY": 183, "titleFontSize": 22, "labelFontSize": 22, "symbolSize": 130, "rowPadding": 3}},
      "fill": {"field": "par", "type": "nominal", "scale": {"domain": ["1","10","30"], "range": ["#262626", "transparent", "transparent"]},
        "legend": {"title": "% PAR", "orient": "none", "legendX": 223, "legendY": 183, "titleFontSize": 22, "labelFontSize": 22, "symbolSize": 130, "rowPadding": 3}}
     }}
   ]
  },
  {
   "spacing": 0,
   "bounds": "flush",
   "vconcat": [
    {
     "title": {"text": "f", "dx": -21},
     "width": 344, "height": 97,
     "data": {"name": "rt"},
     "transform": [{"filter": "datum.par == '30'"}],
     "resolve": {"scale": {"y": "independent"}},
     "layer": [
      {"transform": [{"density": "t", "bandwidth": 0.58, "steps": 150}],
       "mark": {"type": "area", "fill": "white", "fillOpacity": 0, "stroke": "#333", "strokeWidth": 1},
       "encoding": {
        "x": {"field": "value", "type": "quantitative", "scale": {"domain": [1.491, 6.738], "nice": false, "zero": false}, "axis": null},
        "y": {"field": "density", "type": "quantitative", "scale": {"domain": [-1.02, 1.02], "nice": false, "zero": false}, "axis": {"values": [0], "labelExpr": "'30'", "title": null}},
        "y2": {"datum": 0}
       }},
      {"transform": [{"density": "t", "bandwidth": 0.58, "steps": 150}],
       "mark": {"type": "area", "fill": "white", "fillOpacity": 0, "stroke": "#333", "strokeWidth": 1},
       "encoding": {
        "x": {"field": "value", "type": "quantitative", "scale": {"domain": [1.491, 6.738], "nice": false, "zero": false}, "axis": null},
        "y": {"field": "density", "type": "quantitative", "scale": {"domain": [-1.02, 1.02], "nice": false, "zero": false, "reverse": true}, "axis": null},
        "y2": {"datum": 0}
       }},
      {"mark": {"type": "boxplot", "extent": 1.5, "size": 19, "ticks": false, "box": {"fill": "white", "stroke": "#333", "strokeWidth": 1}, "median": {"color": "#333", "thickness": 2.5}, "rule": {"color": "#333", "strokeWidth": 1}, "outliers": {"filled": true, "color": "#333", "size": 30, "opacity": 1}},
       "encoding": {
        "x": {"field": "t", "type": "quantitative", "scale": {"domain": [1.491, 6.738], "nice": false, "zero": false}, "axis": null}
       }}
     ]
    },
    {
     "width": 344, "height": 97,
     "data": {"name": "rt"},
     "transform": [{"filter": "datum.par == '10'"}],
     "resolve": {"scale": {"y": "independent"}},
     "layer": [
      {"transform": [{"density": "t", "bandwidth": 0.414, "steps": 150}],
       "mark": {"type": "area", "fill": "white", "fillOpacity": 0, "stroke": "#333", "strokeWidth": 1},
       "encoding": {
        "x": {"field": "value", "type": "quantitative", "scale": {"domain": [1.491, 6.738], "nice": false, "zero": false}, "axis": null},
        "y": {"field": "density", "type": "quantitative", "scale": {"domain": [-1.02, 1.02], "nice": false, "zero": false}, "axis": {"values": [0], "labelExpr": "'10'", "title": "% PAR"}},
        "y2": {"datum": 0}
       }},
      {"transform": [{"density": "t", "bandwidth": 0.414, "steps": 150}],
       "mark": {"type": "area", "fill": "white", "fillOpacity": 0, "stroke": "#333", "strokeWidth": 1},
       "encoding": {
        "x": {"field": "value", "type": "quantitative", "scale": {"domain": [1.491, 6.738], "nice": false, "zero": false}, "axis": null},
        "y": {"field": "density", "type": "quantitative", "scale": {"domain": [-1.02, 1.02], "nice": false, "zero": false, "reverse": true}, "axis": null},
        "y2": {"datum": 0}
       }},
      {"mark": {"type": "boxplot", "extent": 1.5, "size": 19, "ticks": false, "box": {"fill": "white", "stroke": "#333", "strokeWidth": 1}, "median": {"color": "#333", "thickness": 2.5}, "rule": {"color": "#333", "strokeWidth": 1}, "outliers": {"filled": true, "color": "#333", "size": 30, "opacity": 1}},
       "encoding": {
        "x": {"field": "t", "type": "quantitative", "scale": {"domain": [1.491, 6.738], "nice": false, "zero": false}, "axis": null}
       }}
     ]
    },
    {
     "width": 344, "height": 97,
     "data": {"name": "rt"},
     "transform": [{"filter": "datum.par == '1'"}],
     "resolve": {"scale": {"y": "independent"}},
     "layer": [
      {"transform": [{"density": "t", "bandwidth": 0.27, "steps": 150}],
       "mark": {"type": "area", "fill": "white", "fillOpacity": 0, "stroke": "#333", "strokeWidth": 1},
       "encoding": {
        "x": {"field": "value", "type": "quantitative", "scale": {"domain": [1.491, 6.738], "nice": false, "zero": false}, "axis": {"values": [2,3,4,5,6], "title": "Replenishment Time nC₁₅ (d)"}},
        "y": {"field": "density", "type": "quantitative", "scale": {"domain": [-1.02, 1.02], "nice": false, "zero": false}, "axis": {"values": [0], "labelExpr": "'1'", "title": null}},
        "y2": {"datum": 0}
       }},
      {"transform": [{"density": "t", "bandwidth": 0.27, "steps": 150}],
       "mark": {"type": "area", "fill": "white", "fillOpacity": 0, "stroke": "#333", "strokeWidth": 1},
       "encoding": {
        "x": {"field": "value", "type": "quantitative", "scale": {"domain": [1.491, 6.738], "nice": false, "zero": false}, "axis": {"values": [2,3,4,5,6], "title": "Replenishment Time nC₁₅ (d)"}},
        "y": {"field": "density", "type": "quantitative", "scale": {"domain": [-1.02, 1.02], "nice": false, "zero": false, "reverse": true}, "axis": null},
        "y2": {"datum": 0}
       }},
      {"mark": {"type": "boxplot", "extent": 1.5, "size": 19, "ticks": false, "box": {"fill": "white", "stroke": "#333", "strokeWidth": 1}, "median": {"color": "#333", "thickness": 2.5}, "rule": {"color": "#333", "strokeWidth": 1}, "outliers": {"filled": true, "color": "#333", "size": 30, "opacity": 1}},
       "encoding": {
        "x": {"field": "t", "type": "quantitative", "scale": {"domain": [1.491, 6.738], "nice": false, "zero": false}, "axis": {"values": [2,3,4,5,6], "title": "Replenishment Time nC₁₅ (d)"}}
       }}
     ]
    }
   ]
  }
 ]
}
]
}
]
}
